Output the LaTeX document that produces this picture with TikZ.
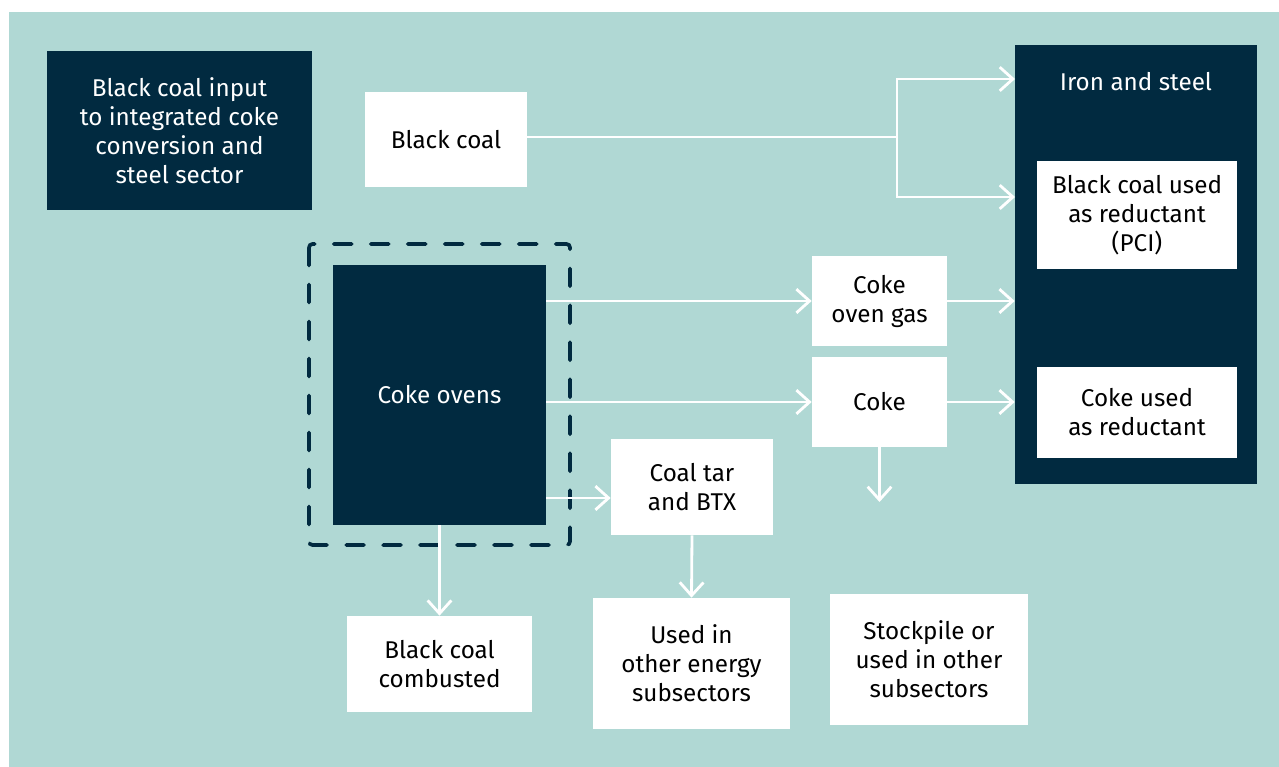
\documentclass[tikz,border=0pt]{standalone}
\usepackage{fontspec}
\setmainfont{Fira Sans}
\usetikzlibrary{arrows.meta}
\definecolor{teal}{HTML}{B0D8D4}
\definecolor{navy}{HTML}{012A40}
\tikzset{
  darkbox/.style={fill=navy, text=white, align=center, inner sep=0pt},
  whitebox/.style={fill=white, text=black, align=center, inner sep=0pt},
  flow/.style={draw=white, line width=1.6pt, -{Straight Barb[length=7.5pt,width=13.5pt,line width=1.6pt]}},
  flowline/.style={draw=white, line width=1.6pt}
}
\begin{document}
\begin{tikzpicture}[x=0.02cm,y=-0.02cm,font=\fontsize{13.8}{16.5}\selectfont]
  \useasboundingbox (0,0) rectangle (1279,767);
  \fill[teal] (9,12) rectangle (1279,767);
  \node[darkbox, minimum width=5.3cm, minimum height=3.18cm] (input) at (179.5,130.5) {Black coal input\\to integrated coke\\conversion and\\steel sector};
  \node[whitebox, minimum width=3.24cm, minimum height=1.9cm] (bcoal) at (446,139.5) {Black coal};
  \node[darkbox, minimum width=4.84cm, minimum height=8.78cm] (iron) at (1136,264.5) {};
  \node[darkbox] (ironlbl) at (1136,82) {Iron and steel};
  \node[whitebox, minimum width=4cm, minimum height=2.16cm] (pci) at (1137,215) {Black coal used\\as reductant\\(PCI)};
  \node[whitebox, minimum width=4cm, minimum height=1.82cm] (cokered) at (1137,412.5) {Coke used\\as reductant};
  \node[whitebox, minimum width=2.7cm, minimum height=1.8cm] (cog) at (879.5,301) {Coke\\oven gas};
  \node[whitebox, minimum width=2.7cm, minimum height=1.8cm] (coke) at (879.5,402) {Coke};
  \node[darkbox, minimum width=4.26cm, minimum height=5.2cm] (ovens) at (439.5,395) {Coke ovens};
  \draw[navy, line width=2.1pt, line cap=round, rounded corners=2pt, dash pattern=on 0.36cm off 0.38cm] (309,244) rectangle (570,545);
  \node[whitebox, minimum width=3.24cm, minimum height=1.92cm] (tar) at (692,487) {Coal tar\\and BTX};
  \node[whitebox, minimum width=3.7cm, minimum height=1.92cm] (combusted) at (439.5,664) {Black coal\\combusted};
  \node[whitebox, minimum width=3.94cm, minimum height=2.62cm] (otheruse) at (691.5,663.5) {Used in\\other energy\\subsectors};
  \node[whitebox, minimum width=3.96cm, minimum height=2.62cm] (stockpile) at (929,659.5) {Stockpile or\\used in other\\subsectors};
  \coordinate (split) at (897,137);
  \coordinate (in1) at (1015,79);
  \coordinate (in2) at (1015,197);
  \coordinate (t1) at (546,498);
  \coordinate (cokeend) at (879.5,502);
  \draw[flowline] (bcoal.east |- split) -- (split);
  \draw[flow] (split) |- (in1);
  \draw[flow] (split) |- (in2);
  \draw[flow] (ovens.east |- cog.west) -- (cog.west);
  \draw[flow] (ovens.east |- coke.west) -- (coke.west);
  \draw[flow] (t1) -- (t1 -| tar.west);
  \draw[flow] (cog.east) -- (cog.east -| iron.west);
  \draw[flow] (coke.east) -- (coke.east -| iron.west);
  \draw[flow] (coke.south) -- (cokeend);
  \draw[flow] (ovens.south) -- (combusted.north);
  \draw[flow] (tar.south) -- (otheruse.north);
\end{tikzpicture}
\end{document}
